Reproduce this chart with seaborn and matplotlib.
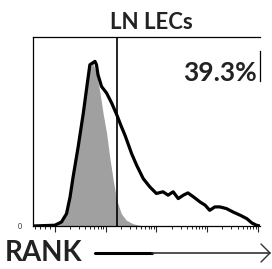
import numpy as np
import pandas as pd
import seaborn as sns
import matplotlib.pyplot as plt
from matplotlib.lines import Line2D

# RANK expression, x in log decades (0 = first decade mark), y in % of max
rank_x = [-0.43, 0.0, 0.13, 0.23, 0.30, 0.36, 0.46, 0.56, 0.64, 0.69, 0.74, 0.79, 0.82,
          0.85, 0.92, 1.02, 1.12, 1.22, 1.31, 1.38, 1.44, 1.51, 1.61, 1.74, 1.87, 2.00,
          2.13, 2.23, 2.33, 2.43, 2.53, 2.62, 2.73, 2.86, 2.96, 3.05, 3.15, 3.25, 3.38,
          3.51, 3.65, 3.78, 3.88, 3.97, 4.04]
rank_y = [0, 0.4, 2.1, 6.5, 15.4, 26, 42, 59.6, 75.6, 85.3, 86.2, 87.1, 85.3,
          80, 73.8, 70.3, 65, 58.8, 52.6, 48.1, 43.7, 38.4, 32.2, 25.1, 20.7, 17.2,
          18.1, 16.3, 18.1, 14.5, 16.3, 17.5, 15.4, 12.7, 11, 8.3, 10.1, 10.1, 9.2,
          7.4, 5.7, 3.9, 1.6, 0.4, 0]

# isotype control (grey filled)
iso_x = [-0.43, 0.03, 0.16, 0.26, 0.33, 0.43, 0.53, 0.61, 0.68, 0.75, 0.82, 0.89,
         0.95, 1.02, 1.08, 1.15, 1.22, 1.31, 1.41, 1.54, 1.67, 1.81]
iso_y = [0, 0, 3, 10.1, 20.7, 36.6, 56.1, 73.8, 83.5, 86.2, 80.9, 70.3,
         59.6, 49, 36.6, 24.2, 13.6, 6.5, 3, 1.2, 0.4, 0]

gate_x = 1.22
title = "LN LECs"
pct_label = "39.3%"
axis_label = "RANK"

sns.set_style("white")
plt.rcParams['font.family'] = ['Lato', 'DejaVu Sans']

fig = plt.figure(figsize=(2.72, 2.69), dpi=100)
ax = fig.add_axes([33 / 272, 1 - 226 / 269, 227 / 272, 189 / 269])

ax.fill_between(iso_x, iso_y, color="#a0a0a0", lw=0)
df = pd.DataFrame({"x": rank_x, "y": rank_y})
sns.lineplot(data=df, x="x", y="y", sort=False, color="black", lw=2.3, ax=ax)
ax.axvline(gate_x, color="black", lw=1.2)

ax.set_xlim(-0.43, 4.04)
ax.set_ylim(0, 100)
ax.set_xlabel("")
ax.set_ylabel("")

# log-like ticks on x
major = [0, 1, 2, 3, 4]
minor = [-0.4, -0.3, -0.2, -0.1]
for d in range(4):
    minor += [d + np.log10(k) for k in range(2, 10)]
ax.set_xticks(major)
ax.set_xticks(minor, minor=True)
ax.set_xticklabels([])
ax.tick_params(axis="x", which="major", direction="out", length=4, width=0.8, bottom=True)
ax.tick_params(axis="x", which="minor", direction="out", length=2.5, width=0.7, bottom=True)
ax.set_yticks([0])
ax.set_yticklabels(["0"], fontsize=5)
ax.tick_params(axis="y", length=0, pad=8, left=True)

for s in ["left", "top", "bottom", "right"]:
    ax.spines[s].set_color("black")
    ax.spines[s].set_linewidth(0.9)
ax.spines["right"].set_bounds(76.5, 92.4)

ax.text(0.985, 0.81, pct_label, transform=ax.transAxes, ha="right", va="center",
        fontsize=19, fontweight="bold", color="#222222")

fig.text(151 / 272, 1 - 23 / 269, title, ha="center", va="center",
         fontsize=16, fontweight="bold", color="#222222")
fig.text(5 / 272, 1 - 253 / 269, axis_label, ha="left", va="center",
         fontsize=20, fontweight="bold", color="#222222")

# arrow next to axis label
y_arr = 1 - 253 / 269
fig.add_artist(Line2D([95 / 272, 152 / 272], [y_arr, y_arr], color="black", lw=2.2))
fig.add_artist(Line2D([152 / 272, 270 / 272], [y_arr, y_arr], color="#333333", lw=1.2))
fig.add_artist(Line2D([261 / 272, 270 / 272, 261 / 272],
                      [1 - 244 / 269, y_arr, 1 - 262 / 269], color="#333333", lw=1.0))

fig.savefig("out.png", dpi=100)
